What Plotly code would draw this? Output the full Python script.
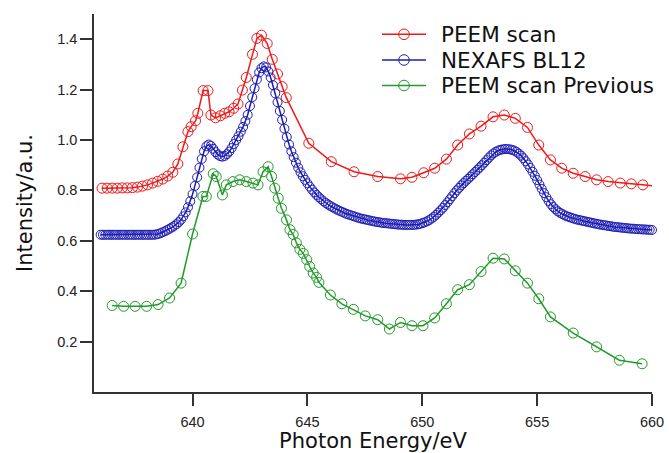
import numpy as np
import plotly.graph_objects as go

# ---------------- data ----------------
peem_x = [636.06, 636.28, 636.50, 636.72, 636.94, 637.16, 637.38, 637.60, 637.82, 638.04,
          638.26, 638.48, 638.70, 638.92, 639.14, 639.36, 639.58, 639.80, 639.94, 640.13,
          640.23, 640.46, 640.67, 640.80, 641.00, 641.21, 641.40, 641.59, 641.79, 641.98,
          642.17, 642.34, 642.61, 642.80, 643.00, 643.25, 643.47, 643.70, 643.90, 644.08,
          645.06, 646.04, 647.03, 648.06, 649.05, 649.55, 650.06, 650.54, 651.05, 651.54,
          652.05, 652.56, 653.08, 653.57, 654.05, 654.58, 655.07, 655.58, 656.07, 656.57,
          657.09, 657.59, 658.09, 658.62, 659.10, 659.60, 660.05]
peem_y = [0.809, 0.809, 0.809, 0.809, 0.810, 0.810, 0.811, 0.813, 0.817, 0.822,
          0.829, 0.836, 0.845, 0.857, 0.872, 0.905, 0.973, 1.033, 1.053, 1.076,
          1.106, 1.196, 1.196, 1.099, 1.088, 1.096, 1.106, 1.112, 1.126, 1.143,
          1.198, 1.248, 1.340, 1.403, 1.416, 1.383, 1.320, 1.262, 1.212, 1.168,
          0.987, 0.914, 0.874, 0.855, 0.846, 0.852, 0.870, 0.888, 0.924, 0.980,
          1.024, 1.055, 1.092, 1.099, 1.086, 1.050, 0.980, 0.921, 0.888, 0.868,
          0.855, 0.842, 0.835, 0.829, 0.826, 0.822, 0.818]

nexafs_x0, nexafs_dx = 636.0, 0.1
nexafs_y = [
    0.624, 0.624, 0.624, 0.624, 0.624, 0.624, 0.624, 0.624, 0.624, 0.624,
    0.624, 0.624, 0.624, 0.624, 0.624, 0.624, 0.624, 0.624, 0.624, 0.624,
    0.624, 0.624, 0.624, 0.624, 0.625, 0.627, 0.630, 0.634, 0.638, 0.643,
    0.648, 0.653, 0.659, 0.666, 0.674, 0.684, 0.697, 0.713, 0.733, 0.757,
    0.785, 0.818, 0.852, 0.890, 0.925, 0.955, 0.975, 0.982, 0.977, 0.965,
    0.952, 0.942, 0.936, 0.934, 0.937, 0.944, 0.954, 0.968, 0.984, 1.000,
    1.015, 1.033, 1.052, 1.075, 1.100, 1.135, 1.170, 1.205, 1.240, 1.268,
    1.285, 1.292, 1.288, 1.272, 1.248, 1.218, 1.185, 1.150, 1.115, 1.080,
    1.045, 1.012, 0.982, 0.955, 0.932, 0.910, 0.890, 0.872, 0.856, 0.842,
    0.828, 0.815, 0.803, 0.792, 0.782, 0.773, 0.765, 0.757, 0.750, 0.744,
    0.738, 0.733, 0.728, 0.723, 0.719, 0.715, 0.711, 0.707, 0.704, 0.701,
    0.698, 0.695, 0.692, 0.689, 0.687, 0.685, 0.683, 0.681, 0.679, 0.677,
    0.675, 0.674, 0.672, 0.671, 0.670, 0.669, 0.668, 0.667, 0.666, 0.665,
    0.664, 0.664, 0.663, 0.663, 0.663, 0.663, 0.663, 0.664, 0.665, 0.667,
    0.670, 0.673, 0.677, 0.682, 0.688, 0.695, 0.703, 0.712, 0.721, 0.731,
    0.742, 0.753, 0.765, 0.777, 0.789, 0.800, 0.810, 0.820, 0.829, 0.838,
    0.846, 0.855, 0.864, 0.873, 0.882, 0.891, 0.900, 0.910, 0.920, 0.930,
    0.939, 0.947, 0.953, 0.958, 0.961, 0.963, 0.964, 0.964, 0.963, 0.961,
    0.958, 0.953, 0.946, 0.938, 0.928, 0.916, 0.903, 0.889, 0.874, 0.858,
    0.841, 0.823, 0.806, 0.789, 0.773, 0.758, 0.745, 0.734, 0.725, 0.717,
    0.711, 0.706, 0.701, 0.697, 0.694, 0.691, 0.688, 0.685, 0.683, 0.681,
    0.679, 0.677, 0.675, 0.673, 0.671, 0.669, 0.667, 0.665, 0.664, 0.662,
    0.661, 0.659, 0.658, 0.656, 0.655, 0.654, 0.653, 0.652, 0.651, 0.650,
    0.649, 0.648, 0.648, 0.647, 0.646, 0.646, 0.645, 0.645, 0.644, 0.644,
    0.643]
nexafs_x = [round(nexafs_x0 + nexafs_dx * i, 2) for i in range(len(nexafs_y))]

prev_x = [636.50, 637.00, 637.50, 638.00, 638.50, 639.00, 639.50, 640.00, 640.45, 640.60,
          640.90, 641.03, 641.30, 641.47, 641.76, 642.05, 642.34, 642.63, 642.85, 643.07,
          643.29, 643.44, 643.58, 643.73, 643.87, 644.09, 644.24, 644.38, 644.52, 644.67,
          644.82, 644.97, 645.10, 645.25, 645.40, 645.50, 646.00, 646.50, 647.00, 647.52,
          648.06, 648.57, 649.05, 649.55, 650.03, 650.54, 651.05, 651.54, 652.05, 652.56,
          653.08, 653.57, 654.05, 654.58, 655.07, 655.58, 656.57, 657.59, 658.58, 659.57]
prev_y = [0.343, 0.340, 0.340, 0.340, 0.347, 0.373, 0.432, 0.627, 0.776, 0.776,
          0.866, 0.855, 0.782, 0.822, 0.835, 0.842, 0.835, 0.829, 0.822, 0.874,
          0.894, 0.855, 0.809, 0.769, 0.729, 0.683, 0.644, 0.625, 0.592, 0.566,
          0.550, 0.525, 0.498, 0.472, 0.455, 0.435, 0.385, 0.350, 0.328, 0.302,
          0.287, 0.250, 0.276, 0.263, 0.263, 0.294, 0.350, 0.406, 0.426, 0.478,
          0.531, 0.528, 0.481, 0.432, 0.370, 0.298, 0.234, 0.179, 0.126, 0.112]

series_names = ["PEEM scan", "NEXAFS BL12", "PEEM scan Previous"]
series_colors = ["#f01818", "#1c1cb4", "#22992a"]

x_ticks = [640, 645, 650, 655, 660]
y_ticks = [0.2, 0.4, 0.6, 0.8, 1.0, 1.2, 1.4]

# ---------------- figure ----------------
W, H = 669, 453
ML, MR, MT, MB = 94, 17, 14, 61
PW, PH = W - ML - MR, H - MT - MB

fig = go.Figure()
for name, xs, ys, col, msz in [
    (series_names[0], peem_x, peem_y, series_colors[0], 10),
    (series_names[1], nexafs_x, nexafs_y, series_colors[1], 9),
    (series_names[2], prev_x, prev_y, series_colors[2], 10),
]:
    fig.add_trace(go.Scatter(
        x=xs, y=ys, name=name, mode="lines+markers",
        line=dict(color=col, width=1.5),
        marker=dict(symbol="circle-open", size=msz, color=col, line=dict(width=1)),
        cliponaxis=False, showlegend=False,
    ))

# custom legend (long line sample with an open circle, like the original)
def px2paper_x(px):
    return (px - ML) / PW

def px2paper_y(py):
    return (H - MB - py) / PH

leg_rows_py = [34.3, 60.0, 85.5]
shapes, annots = [], []
for name, col, py in zip(series_names, series_colors, leg_rows_py):
    yc = px2paper_y(py)
    shapes.append(dict(type="line", xref="paper", yref="paper",
                       x0=px2paper_x(382), x1=px2paper_x(426), y0=yc, y1=yc,
                       line=dict(color=col, width=1.5)))
    shapes.append(dict(type="circle", xref="paper", yref="paper",
                       xsizemode="pixel", ysizemode="pixel",
                       xanchor=px2paper_x(404), yanchor=yc,
                       x0=-5.3, x1=5.3, y0=-5.3, y1=5.3,
                       line=dict(color=col, width=1)))
    annots.append(dict(text=name, xref="paper", yref="paper",
                       x=px2paper_x(439), y=yc, xanchor="left", yanchor="middle",
                       showarrow=False,
                       font=dict(family="DejaVu Sans, sans-serif", size=21.5, color="#111111")))

title_font = "DejaVu Sans, sans-serif"
tick_font = "Liberation Sans, Arial, sans-serif"
fig.update_layout(
    width=W, height=H,
    margin=dict(l=ML, r=MR, t=MT, b=MB, autoexpand=False),
    paper_bgcolor="white", plot_bgcolor="white",
    font=dict(family=tick_font, color="#222222"),
    showlegend=False,
    shapes=shapes, annotations=annots,
    xaxis=dict(
        range=[635.71, 660.0], automargin=False,
        tickvals=x_ticks, ticktext=[str(v) for v in x_ticks],
        showgrid=False, zeroline=False,
        showline=True, linecolor="#333333", linewidth=1.5,
        ticks="outside", ticklen=12, tickwidth=1.5, tickcolor="#333333",
        tickfont=dict(size=14.5), ticklabelstandoff=4,
        title=dict(text="Photon Energy/eV", font=dict(size=21, family=title_font, color="#111111"), standoff=4),
    ),
    yaxis=dict(
        range=[0.0, 1.5], automargin=False,
        tickvals=y_ticks, ticktext=["%.1f" % v for v in y_ticks],
        showgrid=False, zeroline=False,
        showline=True, linecolor="#333333", linewidth=1.5,
        ticks="outside", ticklen=12, tickwidth=1.5, tickcolor="#333333",
        tickfont=dict(size=14.5),
        title=dict(text="Intensity/a.u.", font=dict(size=21, family=title_font, color="#111111"), standoff=19),
    ),
)

fig.write_html("out.html")
